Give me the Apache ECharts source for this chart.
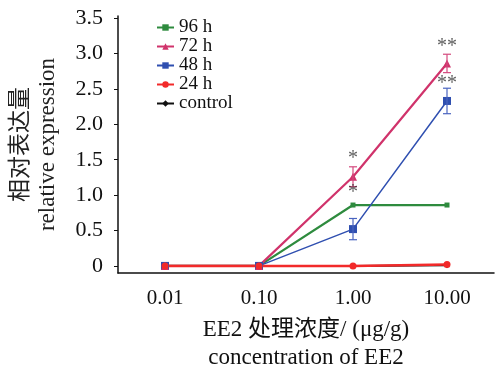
<!DOCTYPE html>
<html>
<head>
<meta charset="utf-8">
<script src="https://cdn.jsdelivr.net/npm/echarts@6/dist/echarts.min.js"></script>
<style>
html,body{margin:0;padding:0;background:#fff;}
#container{width:495px;height:376px;}
</style>
</head>
<body>
<div id="container"></div>
<script>
// 浓度 (μg/g)
var categories = ['0.01', '0.10', '1.00', '10.00'];
// 各时间点相对表达量
var control = [0, 0, 0, 0.01];
var h24 = [0, 0, 0, 0.02];
var h48 = [0, 0, 0.52, 2.33];
var h72 = [0, 0, 1.26, 2.86];
var h96 = [0, 0, 0.86, 0.86];
// 误差 (只有部分点有)
var err48 = [0, 0, 0.15, 0.18];
var err72 = [0, 0, 0.14, 0.13];
// 显著性标记 [类目索引, y, 文本]
var stars = [[2, 1.52, '*'], [2, 1.03, '*'], [3, 3.1, '**'], [3, 2.58, '**']];
var yTicks = [0, 0.5, 1, 1.5, 2, 2.5, 3, 3.5];

var dom = document.getElementById('container');
var myChart = echarts.init(dom);
var serif = '"Liberation Serif", "Noto Sans CJK SC", serif';

function errData(vals, errs) {
    var d = [];
    for (var i = 0; i < vals.length; i++) {
        if (errs[i] > 0) d.push([i, vals[i] - errs[i], vals[i] + errs[i]]);
    }
    return d;
}

function errSeries(name, vals, errs, color) {
    return {
        type: 'custom',
        name: name,
        silent: true,
        z: 3,
        data: errData(vals, errs),
        renderItem: function (params, api) {
            var lo = api.coord([api.value(0), api.value(1)]);
            var hi = api.coord([api.value(0), api.value(2)]);
            var w = 4;
            var st = { stroke: color, lineWidth: 1.2 };
            return {
                type: 'group',
                children: [
                    { type: 'line', shape: { x1: lo[0], y1: lo[1], x2: hi[0], y2: hi[1] }, style: st },
                    { type: 'line', shape: { x1: lo[0] - w, y1: lo[1], x2: lo[0] + w, y2: lo[1] }, style: st },
                    { type: 'line', shape: { x1: hi[0] - w, y1: hi[1], x2: hi[0] + w, y2: hi[1] }, style: st }
                ]
            };
        }
    };
}

function lineSeries(name, data, color, symbol, size, width, z) {
    return {
        type: 'line',
        name: name,
        data: data,
        symbol: symbol,
        symbolSize: size,
        z: z,
        itemStyle: { color: color },
        lineStyle: { color: color, width: width },
        animation: false
    };
}

var option = {
    animation: false,
    grid: { left: 118, right: 1, top: 16, bottom: 103, containLabel: false, outerBoundsMode: 'none' },
    legend: {
        orient: 'vertical',
        left: 151,
        top: 13,
        itemGap: 0,
        itemWidth: 17,
        itemHeight: 8,
        data: ['96 h', '72 h', '48 h', '24 h', 'control'],
        textStyle: { fontFamily: serif, fontSize: 19, color: '#111' }
    },
    xAxis: {
        type: 'category',
        data: categories,
        boundaryGap: true,
        axisLine: { onZero: false, lineStyle: { color: '#111', width: 1.5 } },
        axisTick: { alignWithLabel: true, length: 4, lineStyle: { color: '#111' } },
        axisLabel: { margin: 15, fontFamily: serif, fontSize: 21, color: '#111' },
        name: 'EE2 处理浓度/ (μg/g)\nconcentration of EE2',
        nameLocation: 'middle',
        nameGap: 43,
        nameTextStyle: { fontFamily: serif, fontSize: 23, color: '#111', lineHeight: 28 }
    },
    yAxis: {
        type: 'value',
        min: -0.1,
        max: 3.53,
        splitLine: { show: false },
        axisLine: { show: true, lineStyle: { color: '#111', width: 1.5 } },
        axisTick: { show: true, length: 4, customValues: yTicks, lineStyle: { color: '#111' } },
        axisLabel: {
            margin: 15,
            customValues: yTicks,
            fontFamily: serif,
            fontSize: 22,
            color: '#111',
            formatter: function (v) { return v === 0 ? '0' : v.toFixed(1); }
        },
        name: '相对表达量\nrelative expression',
        nameLocation: 'middle',
        nameRotate: 90,
        nameGap: 57,
        nameTextStyle: { fontFamily: serif, fontSize: 23, color: '#222', lineHeight: 27 }
    },
    series: [
        lineSeries('control', control, '#111111', 'diamond', 6, 2, 2),
        lineSeries('96 h', h96, '#2e8b3e', 'rect', 5, 2.2, 2),
        lineSeries('48 h', h48, '#2f4fb0', 'rect', 8, 1.5, 2),
        lineSeries('72 h', h72, '#d0336b', 'triangle', 8, 2.2, 2),
        lineSeries('24 h', h24, '#f22a2a', 'circle', 7, 2.5, 2),
        errSeries('48 h', h48, err48, '#4a64c0'),
        errSeries('72 h', h72, err72, '#d44a7e'),
        {
            type: 'scatter',
            silent: true,
            symbolSize: 0,
            data: stars.map(function (s) { return { value: [s[0], s[1]], name: s[2] }; }),
            label: {
                show: true,
                position: 'inside',
                formatter: function (p) { return p.name; },
                fontFamily: serif,
                fontSize: 20,
                color: '#333'
            },
            z: 5
        }
    ]
};
myChart.setOption(option);
</script>
</body>
</html>
